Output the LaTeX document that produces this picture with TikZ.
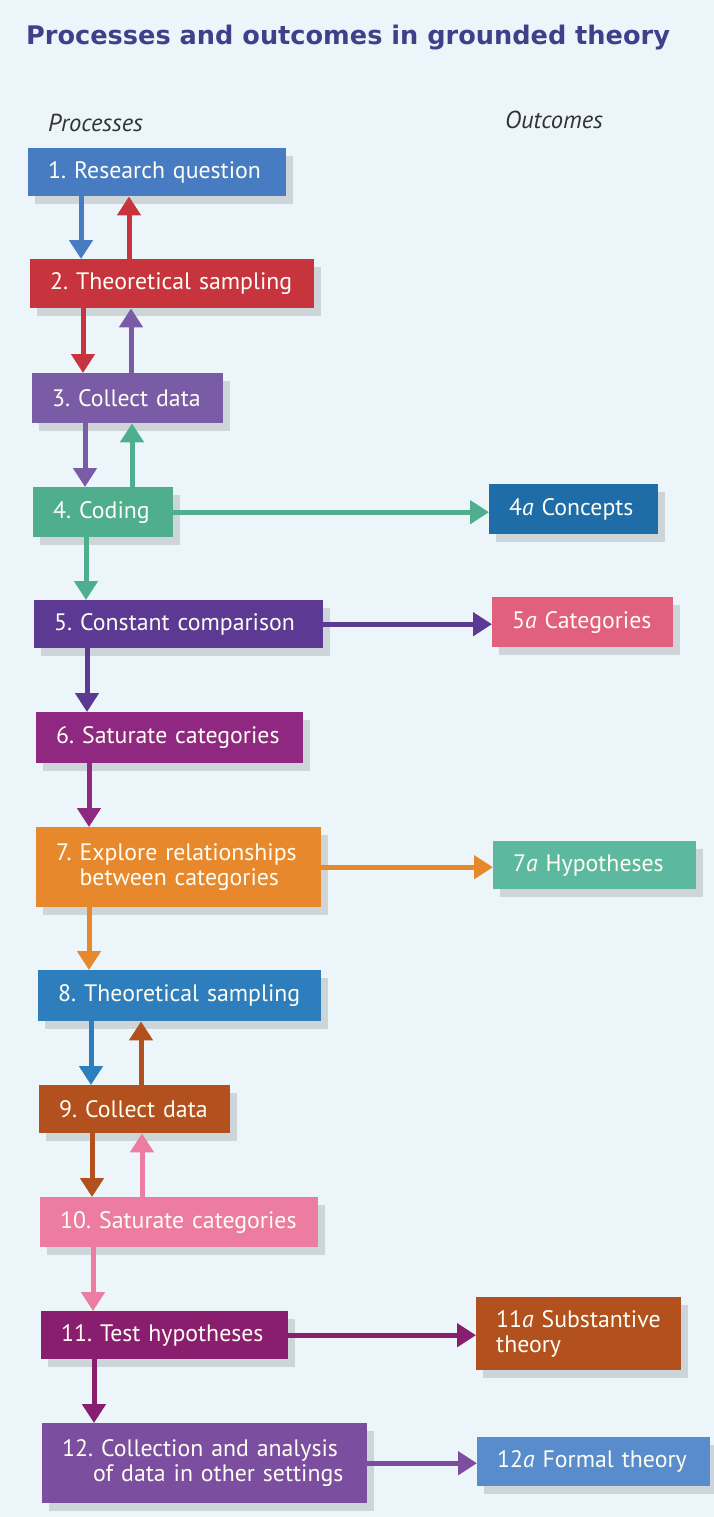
\documentclass[tikz,border=0pt]{standalone}
\usepackage{fontspec}
\setmainfont{PT Sans}
\newfontfamily\headfont{DejaVu Sans}
\usepackage{xcolor}
\usetikzlibrary{positioning, calc, arrows.meta, shadows}

% Colours
\definecolor{bgcol}{RGB}{236,246,250}
\definecolor{titlecol}{RGB}{62,64,138}
\definecolor{labelcol}{RGB}{50,50,55}
\definecolor{cBlueA}{RGB}{72,124,194}
\definecolor{cRed}{RGB}{200,52,62}
\definecolor{cLilac}{RGB}{122,92,166}
\definecolor{cGreen}{RGB}{78,174,142}
\definecolor{cBlueB}{RGB}{30,108,168}
\definecolor{cViolet}{RGB}{92,58,148}
\definecolor{cPinkA}{RGB}{224,96,126}
\definecolor{cMagenta}{RGB}{142,40,128}
\definecolor{cOrange}{RGB}{232,136,44}
\definecolor{cTeal}{RGB}{92,184,158}
\definecolor{cBlueC}{RGB}{46,126,190}
\definecolor{cBrown}{RGB}{178,80,30}
\definecolor{cPinkB}{RGB}{236,124,162}
\definecolor{cPlum}{RGB}{138,30,110}
\definecolor{cPurple}{RGB}{124,78,160}
\definecolor{cBlueD}{RGB}{88,140,204}

\tikzset{
  stage/.style={fill=#1, text=white!96!yellow, anchor=north west, inner xsep=20pt, inner ysep=0pt,
    align=left, font=\fontsize{23.8}{25}\selectfont,
    execute at begin node={\frenchspacing\hyphenpenalty=10000},
    drop shadow={shadow xshift=7pt, shadow yshift=-8pt, fill=gray, opacity=0.28}},
  flow/.style={draw=#1, line width=5pt, -{Triangle[width=23pt,length=19pt]}},
  colhead/.style={anchor=base west, inner sep=0pt, text=labelcol, font=\fontsize{24.5}{28}\selectfont\itshape},
}

\begin{document}
\begin{tikzpicture}[x=1pt, y=-1pt]

    % Page and background
    \useasboundingbox (0,0) rectangle (714,1517);
    \fill[bgcol] (0,0) rectangle (714,1517);

    % Title and column labels
    \node[anchor=base west, inner sep=0pt, text=titlecol, font=\headfont\fontsize{25.6}{30}\selectfont\bfseries]
        (title) at (26,45) {Processes and outcomes in grounded theory};
    \node[colhead] (proclbl) at (48,132) {Processes};
    \node[colhead] (outlbl) at (505,129) {Outcomes};

    % Processes
    \node[stage=cBlueA, text width=218pt, minimum height=48pt] (s1) at (28,148) {1. Research question};
    \node[stage=cRed, text width=244pt, minimum height=49pt] (s2) at (30,259) {2. Theoretical sampling};
    \node[stage=cLilac, text width=151pt, minimum height=50pt] (s3) at (32,373) {3. Collect data};
    \node[stage=cGreen, text width=100pt, minimum height=50pt] (s4) at (33,487) {4. Coding};
    \node[stage=cViolet, text width=249pt, minimum height=48pt] (s5) at (34,600) {5. Constant comparison};
    \node[stage=cMagenta, text width=227pt, minimum height=51pt] (s6) at (36,712) {6. Saturate categories};
    \node[stage=cOrange, text width=245pt, minimum height=80pt] (s7) at (36,827)
        {7. Explore relationships\\\hphantom{7. }between categories};
    \node[stage=cBlueC, text width=243pt, minimum height=51pt] (s8) at (38,970) {8. Theoretical sampling};
    \node[stage=cBrown, text width=151pt, minimum height=48pt] (s9) at (39,1085) {9. Collect data};
    \node[stage=cPinkB, text width=238pt, minimum height=50pt] (s10) at (40,1197) {10. Saturate categories};
    \node[stage=cPlum, text width=207pt, minimum height=48pt] (s11) at (41,1311) {11. Test hypotheses};
    \node[stage=cPurple, text width=285pt, minimum height=80pt] (s12) at (42,1423)
        {12. Collection and analysis\\\hphantom{12.}of data in other settings};

    % Outcomes
    \node[stage=cBlueB, text width=129pt, minimum height=50pt] (o4) at (489,484) {4\textit{a} Concepts};
    \node[stage=cPinkA, text width=141pt, minimum height=50pt] (o5) at (492,597) {5\textit{a} Categories};
    \node[stage=cTeal, text width=163pt, minimum height=48pt] (o7) at (493,841) {7\textit{a} Hypotheses};
    \node[stage=cBrown, text width=165pt, minimum height=73pt] (o11) at (476,1297) {11\textit{a} Substantive\\theory};
    \node[stage=cBlueD, text width=193pt, minimum height=49pt] (o12) at (477,1437) {12\textit{a} Formal theory};

    % Downward arrows
    \foreach \a/\b/\c in {s1/s2/cBlueA, s2/s3/cRed, s3/s4/cLilac, s4/s5/cGreen, s5/s6/cViolet,
                          s6/s7/cMagenta, s7/s8/cOrange, s8/s9/cBlueC, s9/s10/cBrown,
                          s10/s11/cPinkB, s11/s12/cPlum}
        \draw[flow=\c] ([xshift=53pt]\a.south west) -- ([xshift=53pt]\a.south west |- \b.north);

    % Upward (feedback) arrows
    \foreach \a/\b/\c/\d in {s2/s1/cRed/99, s3/s2/cLilac/99, s4/s3/cGreen/99,
                             s9/s8/cBrown/102, s10/s9/cPinkB/102}
        \draw[flow=\c] ([xshift=\d pt]\a.north west) -- ([xshift=\d pt]\a.north west |- \b.south);

    % Arrows to outcomes
    \foreach \a/\b/\c in {s4/o4/cGreen, s5/o5/cViolet, s7/o7/cOrange, s11/o11/cPlum, s12/o12/cPurple}
        \draw[flow=\c] (\a.east) -- (\a.east -| \b.west);

\end{tikzpicture}
\end{document}
